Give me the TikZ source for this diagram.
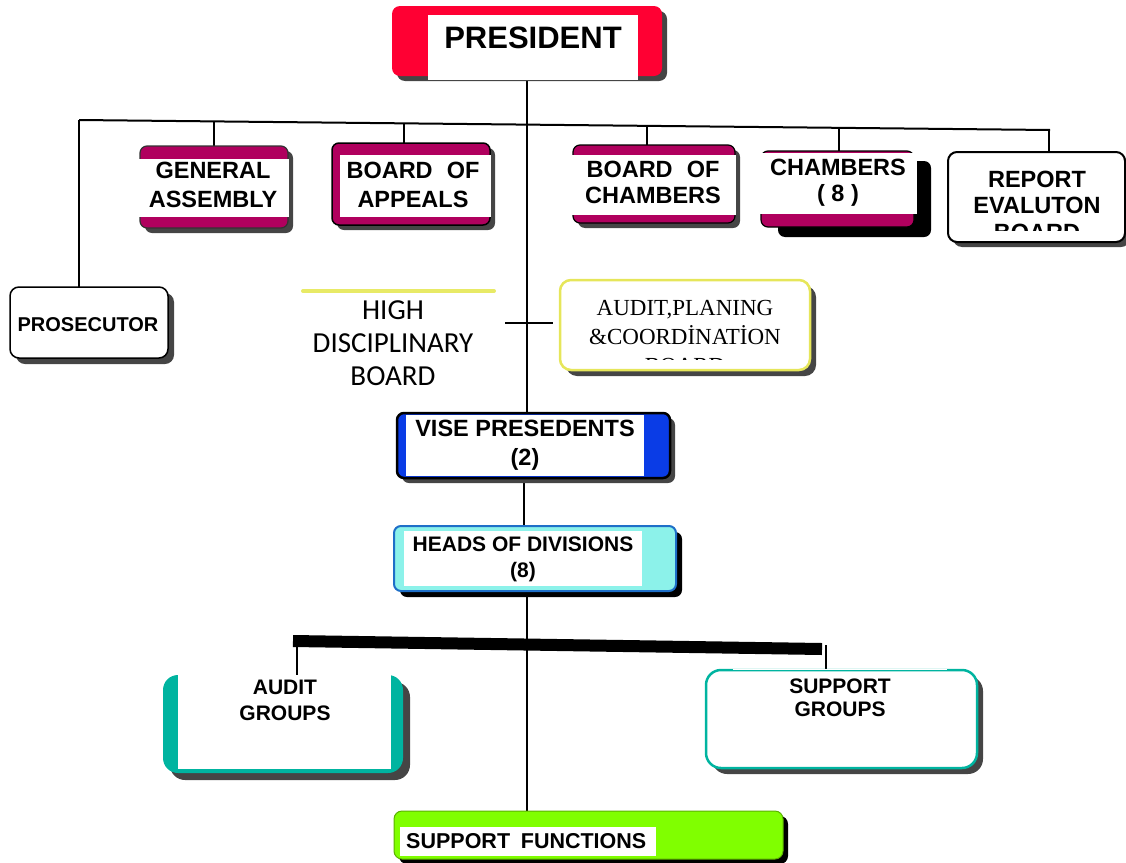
\documentclass[tikz,border=0pt]{standalone}
\usepackage{fontspec}
\setmainfont{Liberation Sans}
\newfontfamily\calfont{Carlito}
\newfontfamily\serfont{Liberation Serif}
\usetikzlibrary{shadows}

\definecolor{presred}{HTML}{FF0033}
\definecolor{boardmag}{HTML}{B0005E}
\definecolor{vpblue}{HTML}{0A3CE6}
\definecolor{hodcyan}{HTML}{8CF2EA}
\definecolor{hodedge}{HTML}{1E6FC8}
\definecolor{grpteal}{HTML}{00B4A0}
\definecolor{sfgreen}{HTML}{80FF00}
\definecolor{apyellow}{HTML}{E6E65A}
\definecolor{hdyellow}{HTML}{E8EA66}
\definecolor{shade}{HTML}{454545}

\tikzset{
  conn/.style={line width=2pt, black},
  box/.style={rectangle, rounded corners=7pt, inner sep=0pt, outer sep=0pt},
  shd/.style={drop shadow={shadow xshift=#1pt, shadow yshift=-#1pt, fill=shade, opacity=1}},
  shd/.default=5,
  pane/.style={rectangle, fill=white, inner sep=0pt, outer sep=0pt},
  lbl/.style={align=center, inner sep=0pt, font=\bfseries\fontsize{23.5}{29}\selectfont},
  small lbl/.style={align=center, inner sep=0pt, font=\bfseries\fontsize{21}{26}\selectfont},
}

\begin{document}
\begin{tikzpicture}[x=1pt, y=-1pt]
\useasboundingbox (0,0) rectangle (1126,862);

% ---------- anchor points of the connector lines ----------
\coordinate (busL) at (79,120);
\coordinate (busR) at (1050,130);
\coordinate (tga)  at (214,121.4);
\coordinate (tboa) at (404,123.3);
\coordinate (tboc) at (647,125.8);
\coordinate (tch)  at (839,127.8);
\coordinate (trep) at (1049,130);
\coordinate (hdt)  at (505,323);
\coordinate (apt)  at (553,323);
\coordinate (barL) at (293,641);
\coordinate (barR) at (822,649);
\coordinate (agt)  at (297,647);
\coordinate (sgt)  at (826,645);

% ---------- box outlines (placed first so the lines can refer to them) ----------
\path
  (527,41)     node[box, minimum width=270pt, minimum height=70pt] (pres) {}
  (214,187)    node[box, minimum width=148pt, minimum height=82pt] (ga) {}
  (411,184)    node[box, minimum width=158pt, minimum height=82pt] (boa) {}
  (654,184)    node[box, minimum width=162pt, minimum height=78pt] (boc) {}
  (837.5,189)  node[box, minimum width=153pt, minimum height=76pt] (ch) {}
  (1036.5,197) node[box, minimum width=177pt, minimum height=90pt] (rep) {}
  (89,322.5)   node[box, minimum width=158pt, minimum height=71pt] (pros) {}
  (685,325)    node[box, minimum width=250pt, minimum height=90pt] (apc) {}
  (533.5,445.5) node[box, minimum width=273pt, minimum height=65pt] (vp) {}
  (535,558.5)  node[box, minimum width=282pt, minimum height=65pt] (hod) {}
  (283,724)    node[box, minimum width=240pt, minimum height=98pt] (ag) {}
  (841.5,719)  node[box, minimum width=271pt, minimum height=98pt] (sg) {}
  (588.5,835)  node[box, minimum width=389pt, minimum height=48pt] (sf) {};

% ---------- connectors ----------
\draw[conn] (pres.south) -- (pres.south |- vp.north);
\draw[conn] (busL) -- (busR);
\draw[conn] (busL) -- (busL |- pros.north);
\draw[conn] (tga)  -- (tga |- ga.north);
\draw[conn] (tboa) -- (tboa |- boa.north);
\draw[conn] (tboc) -- (tboc |- boc.north);
\draw[conn] (tch)  -- (tch |- ch.north);
\draw[conn] (trep) -- (trep |- rep.north);
\draw[conn] (hdt) -- (apt);
\draw[conn] (524,478) coordinate (vpb) -- (vpb |- hod.north);
\draw[conn] (pres.south |- hod.south) -- (pres.south |- sf.north);
\draw[line width=12pt] (barL) -- (barR);
\draw[conn] (sgt) -- (sgt |- sg.north);

% ---------- PRESIDENT ----------
\node[box, rounded corners=8pt, fill=presred, shd, minimum width=270pt, minimum height=70pt] at (pres) {};
\node[pane, minimum width=210pt, minimum height=65pt] (presw) at (533,47.5) {};
\node[inner sep=0pt, font=\bfseries\fontsize{31}{36}\selectfont] (prest) at (533,38) {PRESIDENT};

% ---------- boards on the upper line ----------
\node[box, fill=boardmag, draw=black!80, line width=1.2pt, shd, minimum width=148pt, minimum height=82pt] at (ga) {};
\node[pane, minimum width=150pt, minimum height=58pt] (gaw) at (214,188) {};
\node[lbl] (gat) at (213,185) {GENERAL\\ASSEMBLY};

\node[box, fill=boardmag, draw=black, line width=1.5pt, shd, minimum width=158pt, minimum height=82pt] at (boa) {};
\node[pane, minimum width=151pt, minimum height=62pt] (boaw) at (415.5,186) {};
\node[lbl] (boat) at (413,185) {BOARD\hspace{0.6em}OF\\APPEALS};

\node[box, fill=boardmag, draw=black, line width=1.2pt, shd, minimum width=162pt, minimum height=78pt] at (boc) {};
\node[pane, minimum width=164pt, minimum height=60pt] (bocw) at (654,185) {};
\node[lbl, font=\bfseries\fontsize{23.5}{26}\selectfont] (boct) at (653,182) {BOARD\hspace{0.6em}OF\\CHAMBERS};

\node[box, fill=boardmag, draw=black, line width=1.2pt,
      drop shadow={shadow xshift=17pt, shadow yshift=-10pt, fill=black, opacity=1},
      minimum width=153pt, minimum height=76pt] at (ch) {};
\node[pane, minimum width=157pt, minimum height=61pt] (chw) at (838.5,183.5) {};
\node[lbl, font=\bfseries\fontsize{23.5}{26}\selectfont] (cht) at (838,183) {CHAMBERS\\( 8 )};

\node[box, rounded corners=9pt, fill=white, draw=black, line width=2pt, shd, minimum width=177pt, minimum height=90pt] at (rep) {};
\begin{scope}
  \clip (948,152) rectangle (1125,230);
  \node[lbl, font=\bfseries\fontsize{23.5}{26.5}\selectfont] (rept) at (1037,205.5) {REPORT\\EVALUTON\\BOARD};
\end{scope}

% ---------- side boards ----------
\node[box, rounded corners=9pt, fill=white, draw=black, line width=1.5pt, shd=6, minimum width=158pt, minimum height=71pt] at (pros) {};
\node[lbl, font=\bfseries\fontsize{20}{24}\selectfont] (prost) at (88,325) {PROSECUTOR};

\draw[hdyellow, line width=4pt, line cap=round] (303,291) coordinate (hdl) -- (494,291) coordinate (hdr);
\node[align=center, inner sep=0pt, font=\calfont\fontsize{29}{33}\selectfont] (hdb) at (393,343) {HIGH\\DISCIPLINARY\\BOARD};

\node[box, rounded corners=11pt, fill=white, draw=apyellow, line width=2.5pt, shd=6, minimum width=250pt, minimum height=90pt] at (apc) {};
\begin{scope}
  \clip (560,280) rectangle (810,359);
  \node[align=center, inner sep=0pt, font=\serfont\fontsize{23}{29}\selectfont] (apct) at (685,337) {AUDIT,PLANING\\\&COORDİNATİON\\BOARD};
\end{scope}

% ---------- vice presidents and heads of divisions ----------
\node[box, fill=vpblue, draw=black, line width=2.5pt, shd, minimum width=273pt, minimum height=65pt] at (vp) {};
\node[pane, minimum width=238pt, minimum height=61pt] (vpw) at (525,445.5) {};
\node[lbl, font=\bfseries\fontsize{23.5}{29}\selectfont] (vpt) at (525,445.5) {VISE PRESEDENTS\\(2)};

\node[box, fill=hodcyan, draw=hodedge, line width=2pt,
      drop shadow={shadow xshift=6pt, shadow yshift=-6pt, fill=black, opacity=1},
      minimum width=282pt, minimum height=65pt] at (hod) {};
\node[pane, minimum width=238pt, minimum height=55pt] (hodw) at (523,558.5) {};
\node[small lbl] (hodt) at (523,559) {HEADS OF DIVISIONS\\(8)};

% ---------- groups ----------
\node[box, rounded corners=15pt, fill=grpteal, shd=7, minimum width=240pt, minimum height=98pt] at (ag) {};
\node[pane, minimum width=213pt, minimum height=101pt] (agw) at (284.5,718.5) {};
\draw[conn] (agt) -- (agt |- ag.north);
\node[small lbl] (agtx) at (285,700) {AUDIT\\GROUPS};

\node[box, rounded corners=15pt, fill=white, draw=grpteal, line width=2.5pt, shd=6, minimum width=271pt, minimum height=98pt] at (sg) {};
\draw[white, line width=1.5pt] (733,669.3) -- (947,669.3);
\node[small lbl, font=\bfseries\fontsize{21}{23}\selectfont] (sgtx) at (840,697.5) {SUPPORT\\GROUPS};

% ---------- support functions ----------
\node[box, rounded corners=8pt, fill=sfgreen, draw=sfgreen!70!black, line width=1pt,
      drop shadow={shadow xshift=5pt, shadow yshift=-5pt, fill=black, opacity=1},
      minimum width=389pt, minimum height=48pt] at (sf) {};
\node[pane, minimum width=256pt, minimum height=29pt] (sfw) at (528,841.5) {};
\node[anchor=west, inner sep=0pt, font=\bfseries\fontsize{21.5}{25}\selectfont] (sft) at (406,841) {SUPPORT\hspace{0.5em}FUNCTIONS};

\end{tikzpicture}
\end{document}
